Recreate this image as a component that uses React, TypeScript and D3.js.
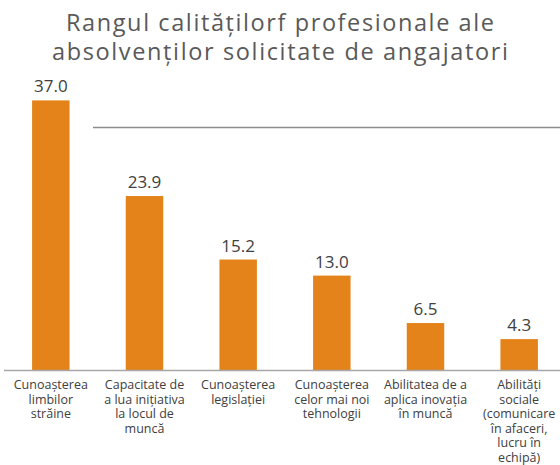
import React from "react";
import * as d3 from "d3";

const categories: string[][] = [
  ["Cunoașterea", "limbilor", "străine"],
  ["Capacitate de", "a lua inițiativa", "la locul de", "muncă"],
  ["Cunoașterea", "legislației"],
  ["Cunoașterea", "celor mai noi", "tehnologii"],
  ["Abilitatea de a", "aplica inovația", "în muncă"],
  ["Abilități", "sociale", "(comunicare", "în afaceri,", "lucru în", "echipă)"],
];
const values: number[] = [37.0, 23.9, 15.2, 13.0, 6.5, 4.3];
const titleLines: string[] = [
  "Rangul calitățilorf profesionale ale",
  "absolvenților solicitate de angajatori",
];
const titleWidths: number[] = [428, 456];
const refLineValue = 33.3;

const W = 560;
const H = 465;
const baseY = 370.5;
const FONT = "'Open Sans', 'DejaVu Sans', sans-serif";

export default function App() {
  const ids = d3.range(values.length).map(String);
  const x = d3
    .scaleBand<string>()
    .domain(ids)
    .range([4, 566])
    .paddingInner(0.6)
    .paddingOuter(0.3);
  const y = d3.scaleLinear().domain([0, 40]).range([baseY, baseY - 292]);

  return (
    <svg
      width={W}
      height={H}
      style={{ position: "absolute", left: 0, top: 0, background: "#fff" }}
      fontFamily={FONT}
    >
      {titleLines.map((t, i) => (
        <text
          key={i}
          x={280}
          y={31 + i * 29}
          textAnchor="middle"
          fontSize={23.5}
          fill="#595959"
          textLength={titleWidths[i]}
          lengthAdjust="spacing"
        >
          {t}
        </text>
      ))}
      <line
        x1={93}
        x2={560}
        y1={y(refLineValue)}
        y2={y(refLineValue)}
        stroke="#8c8c8c"
        strokeWidth={1.5}
      />
      {values.map((v, i) => {
        const bx = x(String(i))!;
        const bw = x.bandwidth();
        return (
          <g key={i}>
            <rect x={bx} y={y(v)} width={bw} height={baseY - y(v)} fill="#E4831A" />
            <text
              x={bx + bw / 2}
              y={y(v) - 8}
              textAnchor="middle"
              fontSize={17}
              fill="#404040"
            >
              {v.toFixed(1)}
            </text>
            {categories[i].map((ln, j) => (
              <text
                key={j}
                x={bx + bw / 2}
                y={389 + j * 14.6}
                textAnchor="middle"
                fontSize={12.5}
                fill="#404040"
              >
                {ln}
              </text>
            ))}
          </g>
        );
      })}
      <line x1={4} x2={560} y1={baseY} y2={baseY} stroke="#a6a6a6" strokeWidth={1.5} />
    </svg>
  );
}
